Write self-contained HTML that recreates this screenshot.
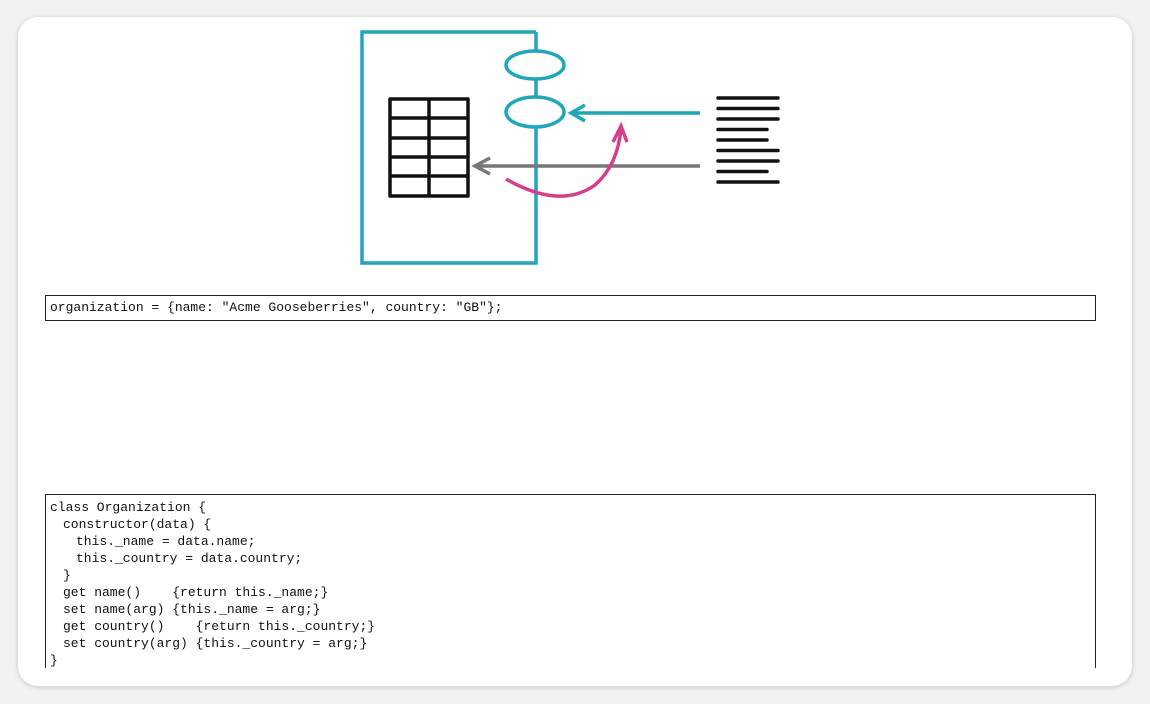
<!DOCTYPE html>
<html><head><meta charset="utf-8"><style>
html,body{margin:0;padding:0;width:1150px;height:704px;background:#f2f2f2;overflow:hidden}
.card{position:absolute;left:18px;top:17px;width:1114px;height:669px;background:#fff;border-radius:20px;box-shadow:0 1px 6px rgba(0,0,0,0.18)}
.code{position:absolute;font-family:"Liberation Mono",monospace;font-size:13px;color:#111;white-space:pre;line-height:17px}
.code div{height:17px}
.i1{margin-left:13px}.i2{margin-left:26px}
</style></head><body>
<div class="card"></div>
<svg style="position:absolute;left:0;top:0" width="1150" height="704">
<g fill="none" stroke="#1fa6ba" stroke-width="3.5">
<path d="M536,32 H362 V263 H536 V32"/>
<ellipse cx="535" cy="65" rx="29" ry="14" fill="#fff"/>
<ellipse cx="535" cy="112" rx="29" ry="15" fill="#fff"/>
<line x1="700" y1="113" x2="572" y2="113"/>
<path d="M585,105 L571,113 L585,121"/>
</g>
<g fill="none" stroke="#777" stroke-width="3.5">
<line x1="700" y1="166" x2="476" y2="166"/>
<path d="M490,158 L475,166 L490,174"/>
</g>
<g fill="none" stroke="#d63e8c" stroke-width="3.5">
<path d="M506,179 Q560,210 595,185 Q618,165 621,128"/>
<path d="M613,142 L621,126 L627,142"/>
</g>
<g fill="none" stroke="#111" stroke-width="3.5" stroke-linejoin="round">
<rect x="390" y="99" width="78" height="97"/>
<line x1="429" y1="99" x2="429" y2="196"/>
<line x1="390" y1="118" x2="468" y2="118"/>
<line x1="390" y1="138" x2="468" y2="138"/>
<line x1="390" y1="157" x2="468" y2="157"/>
<line x1="390" y1="176" x2="468" y2="176"/>
</g>
<g stroke="#111" stroke-width="3.5" stroke-linecap="round">
<line x1="718" y1="98" x2="778" y2="98"/>
<line x1="718" y1="108.5" x2="778" y2="108.5"/>
<line x1="718" y1="119" x2="778" y2="119"/>
<line x1="718" y1="129.5" x2="767" y2="129.5"/>
<line x1="718" y1="140" x2="767" y2="140"/>
<line x1="718" y1="150.5" x2="778" y2="150.5"/>
<line x1="718" y1="161" x2="778" y2="161"/>
<line x1="718" y1="171.5" x2="767" y2="171.5"/>
<line x1="718" y1="182" x2="778" y2="182"/>
</g>
<rect x="45.5" y="295.5" width="1050" height="25" fill="none" stroke="#222" stroke-width="1"/>
<path d="M45.5,668 V494.5 H1095.5 V668" fill="none" stroke="#222" stroke-width="1"/>
</svg>
<div class="code" style="left:50px;top:299px">organization = {name: "Acme Gooseberries", country: "GB"};</div>
<div class="code" style="left:50px;top:499px"><div>class Organization {</div><div class="i1">constructor(data) {</div><div class="i2">this._name = data.name;</div><div class="i2">this._country = data.country;</div><div class="i1">}</div><div class="i1">get name()    {return this._name;}</div><div class="i1">set name(arg) {this._name = arg;}</div><div class="i1">get country()    {return this._country;}</div><div class="i1">set country(arg) {this._country = arg;}</div><div>}</div></div>
</body></html>
